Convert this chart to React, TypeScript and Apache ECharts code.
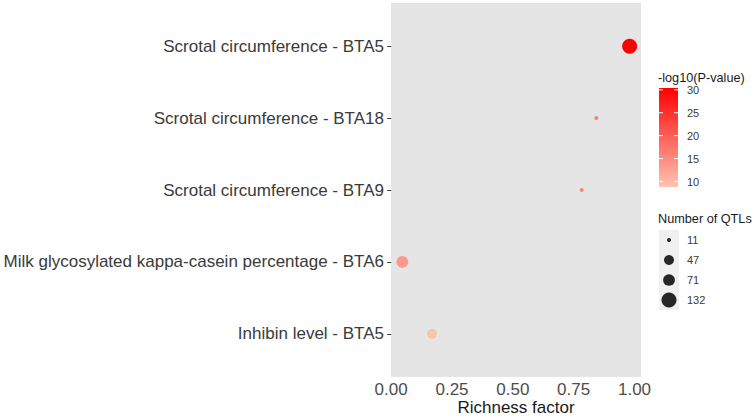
import React, { useEffect, useRef } from "react";
import * as echarts from "echarts";

const categories = [
  "Inhibin level - BTA5",
  "Milk glycosylated kappa-casein percentage - BTA6",
  "Scrotal circumference - BTA9",
  "Scrotal circumference - BTA18",
  "Scrotal circumference - BTA5",
];
const richness = [0.168, 0.046, 0.783, 0.843, 0.98];
const logP = [9.0, 13.5, 16.0, 16.5, 30.4];
const qtlCounts = [47, 71, 11, 11, 132];
const xTicks = [0, 0.25, 0.5, 0.75, 1];
const colorTicks = [10, 15, 20, 25, 30];
const sizeBreaks = [11, 47, 71, 132];

const FONT = "'Liberation Sans', Arial, sans-serif";
const LOW = "#FCC4B3";
const HIGH = "#FF0000";
const CMIN = 8.8;
const CMAX = 30.4;

const sizeOf = (n: number) => 4 + 11 * Math.sqrt((n - 11) / (132 - 11));

export default function App() {
  const ref = useRef<HTMLDivElement>(null);
  useEffect(() => {
    if (!ref.current) return;
    const chart = echarts.init(ref.current, undefined, { renderer: "svg" });

    const xr = Math.max(...richness) - Math.min(...richness);
    const xmin = Math.min(...richness) - 0.05 * xr;
    const xmax = Math.max(...richness) + 0.05 * xr;

    // colour bar legend
    const cbX = 659, cbY = 88, cbW = 19, cbH = 99;
    const cy = (v: number) => cbY + ((CMAX - v) / (CMAX - CMIN)) * cbH;
    const graphics: any[] = [
      {
        type: "text",
        x: 658,
        y: 78,
        style: { text: "-log10(P-value)", font: `12.7px ${FONT}`, fill: "#1a1a1a", verticalAlign: "middle" },
      },
      {
        type: "rect",
        shape: { x: cbX, y: cbY, width: cbW, height: cbH },
        style: {
          fill: new echarts.graphic.LinearGradient(0, 0, 0, 1, [
            { offset: 0, color: HIGH },
            { offset: 1, color: LOW },
          ]),
        },
      },
    ];
    colorTicks.forEach((t) => {
      const y = cy(t);
      graphics.push(
        { type: "line", shape: { x1: cbX, y1: y, x2: cbX + 4, y2: y }, style: { stroke: "#fff", lineWidth: 1 } },
        { type: "line", shape: { x1: cbX + cbW - 4, y1: y, x2: cbX + cbW, y2: y }, style: { stroke: "#fff", lineWidth: 1 } },
        {
          type: "text",
          x: 687,
          y,
          style: { text: String(t), font: `11px ${FONT}`, fill: "#3a3a3a", verticalAlign: "middle" },
        }
      );
    });

    // size legend
    const kY = 230, kH = 20;
    graphics.push(
      {
        type: "text",
        x: 658,
        y: 219,
        style: { text: "Number of QTLs", font: `12.7px ${FONT}`, fill: "#1a1a1a", verticalAlign: "middle" },
      },
      {
        type: "rect",
        shape: { x: cbX, y: kY, width: 20, height: kH * sizeBreaks.length },
        style: { fill: "#F0F0F0" },
      }
    );
    sizeBreaks.forEach((b, i) => {
      const y = kY + kH * i + kH / 2;
      graphics.push(
        { type: "circle", shape: { cx: cbX + 10, cy: y, r: sizeOf(b) / 2 }, style: { fill: "#262626" } },
        {
          type: "text",
          x: 687,
          y,
          style: { text: String(b), font: `11px ${FONT}`, fill: "#3a3a3a", verticalAlign: "middle" },
        }
      );
    });

    chart.setOption({
      animation: false,
      textStyle: { fontFamily: FONT },
      grid: {
        left: 391,
        right: 115,
        top: 3,
        bottom: 42,
        show: true,
        backgroundColor: "#E5E5E5",
        borderWidth: 0,
        outerBoundsMode: "none",
        containLabel: false,
      },
      xAxis: {
        type: "value",
        min: xmin,
        max: xmax,
        name: "Richness factor",
        nameLocation: "middle",
        nameGap: 22,
        nameMoveOverlap: false,
        nameTextStyle: { fontSize: 17, color: "#1a1a1a", fontFamily: FONT, verticalAlign: "top" },
        axisLine: { show: false },
        axisTick: { show: false, customValues: xTicks },
        splitLine: { show: false },
        axisLabel: {
          customValues: xTicks,
          formatter: (v: number) => v.toFixed(2),
          fontSize: 17,
          color: "#4D4D4D",
          margin: 4,
          fontFamily: FONT,
        },
      },
      yAxis: {
        type: "value",
        min: -0.6,
        max: categories.length - 0.4,
        axisLine: { show: false },
        splitLine: { show: false },
        axisTick: {
          show: true,
          customValues: categories.map((_, i) => i),
          length: 4,
          lineStyle: { color: "#333" },
        },
        axisLabel: {
          customValues: categories.map((_, i) => i),
          formatter: (v: number) => categories[Math.round(v)] ?? "",
          fontSize: 17,
          color: "#3a3a3a",
          margin: 7,
          fontFamily: FONT,
        },
      },
      visualMap: {
        show: false,
        type: "continuous",
        dimension: 2,
        min: CMIN,
        max: CMAX,
        seriesIndex: 0,
        inRange: { color: [LOW, HIGH] },
      },
      series: [
        {
          type: "scatter",
          data: categories.map((c, i) => [richness[i], i, logP[i], qtlCounts[i]]),
          symbolSize: (d: number[]) => sizeOf(d[3]),
          itemStyle: { opacity: 1 },
        },
      ],
      graphic: graphics,
    });
    return () => chart.dispose();
  }, []);
  return <div ref={ref} style={{ width: 756, height: 419, position: "absolute", left: 0, top: 0 }} />;
}
